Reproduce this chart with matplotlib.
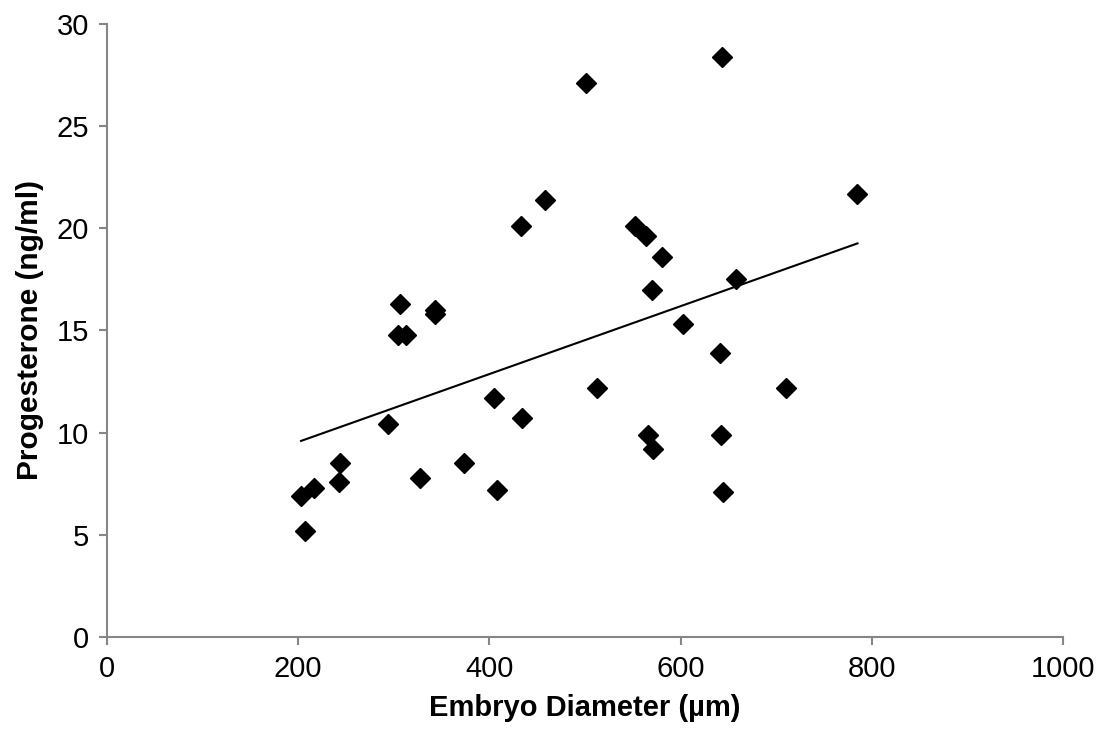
"""
Progesterone vs embryo diameter scatter with linear trendline.
"""

import numpy as np
import matplotlib
matplotlib.use("Agg")
import matplotlib.pyplot as plt

# data
diameter_um = [203, 207, 217, 243, 244, 294, 304, 306, 313, 327,
               343, 343, 373, 405, 408, 433, 434, 458, 501, 513,
               552, 564, 566, 570, 571, 581, 603, 641, 642, 643,
               644, 658, 710, 785]
progesterone = [6.9, 5.2, 7.3, 7.6, 8.5, 10.4, 14.8, 16.3, 14.8, 7.8,
                16.0, 15.8, 8.5, 11.7, 7.2, 20.1, 10.7, 21.4, 27.1, 12.2,
                20.1, 19.6, 9.9, 17.0, 9.2, 18.6, 15.3, 13.9, 9.9, 28.4,
                7.1, 17.5, 12.2, 21.7]

x_ticks = [0, 200, 400, 600, 800, 1000]
y_ticks = [0, 5, 10, 15, 20, 25, 30]

plt.rcParams['font.family'] = ['Liberation Sans', 'DejaVu Sans']
axis_grey = '#868686'

fig = plt.figure(figsize=(11.04, 7.34), dpi=100)
ax = fig.add_axes([0.0969, 0.1322, 0.8660, 0.8351])

x = np.array(diameter_um)
y = np.array(progesterone)

# linear trendline over the data range
slope, intercept = np.polyfit(x, y, 1)
xs = np.array([x.min(), x.max()])
ax.plot(xs, slope * xs + intercept, color='black', lw=1.5, zorder=2)

ax.plot(x, y, linestyle='none', marker='D', markersize=10.5,
        color='black', zorder=3)

ax.set_xlim(0, 1000)
ax.set_ylim(0, 30)
ax.set_xticks(x_ticks)
ax.set_yticks(y_ticks)

for side in ['top', 'right']:
    ax.spines[side].set_visible(False)
for side in ['left', 'bottom']:
    ax.spines[side].set_color(axis_grey)
    ax.spines[side].set_linewidth(1.5)

ax.tick_params(axis='both', direction='out', length=6, width=1.5,
               color=axis_grey, labelsize=21, labelcolor='black', pad=7)

ax.set_xlabel('Embryo Diameter (µm)', fontsize=21, fontweight='bold', labelpad=8)
ax.set_ylabel('Progesterone (ng/ml)', fontsize=21.5, fontweight='bold', labelpad=9)

fig.savefig('out.png', dpi=100)
plt.close(fig)
